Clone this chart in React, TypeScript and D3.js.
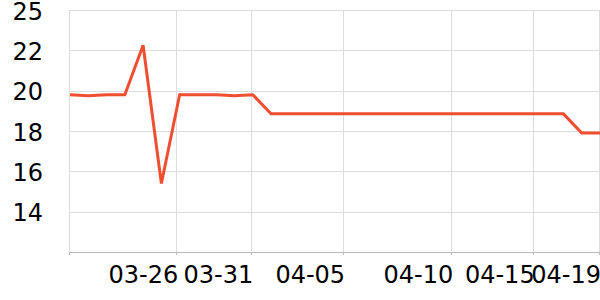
import React from "react";
import * as d3 from "d3";

const values: number[] = [
  19.8, 19.75, 19.8, 19.8, 22.25, 15.4, 19.8, 19.8, 19.8, 19.75,
  19.8, 18.85, 18.85, 18.85, 18.85, 18.85, 18.85, 18.85, 18.85, 18.85,
  18.85, 18.85, 18.85, 18.85, 18.85, 18.85, 18.85, 18.85, 17.9, 17.9,
];
const xTickLabels: string[] = ["", "03-26", "03-31", "04-05", "04-10", "04-15", "04-19"];
const xTickPos: number[] = [0, 5.87, 9.97, 15.0, 20.92, 25.37, 29];
const yTickValues: number[] = [14, 16, 18, 20, 22, 24];
const yTickLabels: string[] = ["14", "16", "18", "20", "22", "25"];

const W = 600;
const H = 300;
const left = 70;
const right = 600;
const top = 10;
const bottom = 252;
const FONT = "DejaVu Sans, sans-serif";

export default function App() {
  const x = d3.scaleLinear().domain([0, values.length - 1]).range([left, right]);
  const y = d3.scaleLinear().domain([12, 24]).range([bottom, top]);
  const line = d3
    .line<number>()
    .x((_, i) => x(i))
    .y((d) => y(d));

  return (
    <svg
      width={W}
      height={H}
      style={{ position: "absolute", left: 0, top: 0, background: "#fff" }}
    >
      {yTickValues.map((v) => (
        <line
          key={"hy" + v}
          x1={left}
          x2={right}
          y1={Math.round(y(v)) + 0.5}
          y2={Math.round(y(v)) + 0.5}
          stroke="#dddddd"
          strokeWidth={1}
        />
      ))}
      {xTickPos.map((p, i) => (
        <line
          key={"vx" + i}
          x1={Math.round(x(p)) - 0.5}
          x2={Math.round(x(p)) - 0.5}
          y1={top}
          y2={bottom}
          stroke="#dddddd"
          strokeWidth={1}
        />
      ))}
      <line x1={left} x2={right} y1={bottom + 0.5} y2={bottom + 0.5} stroke="#bbbbbb" strokeWidth={1} />
      {xTickPos.map((p, i) => (
        <line
          key={"tk" + i}
          x1={Math.round(x(p)) - 0.5}
          x2={Math.round(x(p)) - 0.5}
          y1={bottom}
          y2={bottom + 3}
          stroke="#bbbbbb"
          strokeWidth={1}
        />
      ))}
      <path
        d={line(values) || ""}
        fill="none"
        stroke="#f04e30"
        strokeWidth={3}
        strokeLinejoin="miter"
      />
      {yTickValues.map((v, i) => (
        <text
          key={"yl" + v}
          x={43}
          y={y(v)}
          dy="0.4em"
          textAnchor="end"
          fontFamily={FONT}
          fontSize={24}
          fill="#000"
        >
          {yTickLabels[i]}
        </text>
      ))}
      {xTickPos.map((p, i) => (
        <text
          key={"xl" + i}
          x={x(p) + 1}
          y={283}
          textAnchor="end"
          fontFamily={FONT}
          fontSize={24}
          fill="#000"
        >
          {xTickLabels[i]}
        </text>
      ))}
    </svg>
  );
}
